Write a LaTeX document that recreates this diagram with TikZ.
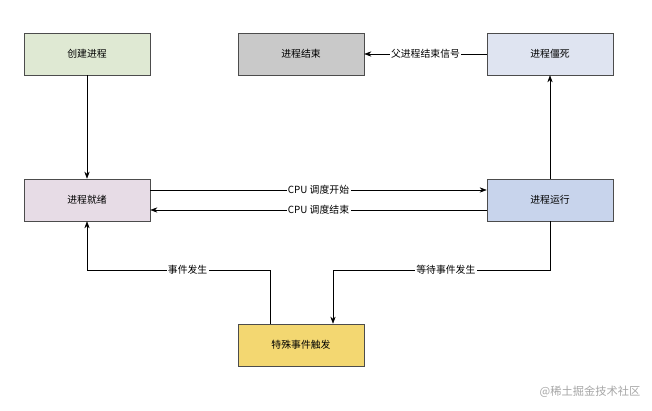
\documentclass[tikz,border=0pt]{standalone}
\usepackage{fontspec}
\setmainfont{Noto Sans CJK SC}
\usetikzlibrary{arrows.meta}
\definecolor{cGreen}{HTML}{DFE9D3}
\definecolor{cGray}{HTML}{C9C9C9}
\definecolor{cZombie}{HTML}{DFE4F1}
\definecolor{cReady}{HTML}{E7DCE6}
\definecolor{cRun}{HTML}{C8D4EC}
\definecolor{cEvent}{HTML}{F3D771}
\tikzset{
  state/.style={draw=black!70,minimum width=3.15cm,minimum height=1.05cm,font=\scriptsize},
  lbl/.style={fill=white,inner sep=1pt,font=\scriptsize},
}
\begin{document}
\begin{tikzpicture}[x=0.025cm,y=-0.025cm,>={Stealth[length=5pt]},font=\scriptsize]
                \useasboundingbox (0,0) rectangle (652,411);
                \node[state,fill=cGreen] (create) at (87,54) {创建进程};
                \node[state,fill=cGray] (finish) at (301,54) {进程结束};
                \node[state,fill=cZombie] (zombie) at (550,54) {进程僵死};
                \node[state,fill=cReady] (ready) at (87,200) {进程就绪};
                \node[state,fill=cRun] (run) at (550,200) {进程运行};
                \node[state,fill=cEvent] (event) at (301,345) {特殊事件触发};
                \coordinate (evL) at (270,270);
                \coordinate (rdL) at (87,270);
                \coordinate (ruL) at (550,270);
                \coordinate (evR) at (333,270);
                \draw[->] (create)--(ready);
                \draw[->] (zombie)--(finish) node[lbl,midway] {父进程结束信号};
                \draw[->] (run)--(zombie);
                \draw[->] ([yshift=0.25cm]ready.east)--([yshift=0.25cm]run.west) node[lbl,midway] {CPU 调度开始};
                \draw[->] ([yshift=-0.25cm]run.west)--([yshift=-0.25cm]ready.east) node[lbl,midway] {CPU 调度结束};
                \draw[->] (event.north -| evL)--(evL)--(rdL) node[lbl,pos=0.45] {事件发生}--(ready);
                \draw[->] (run)--(ruL)--(evR) node[lbl,pos=0.48] {等待事件发生}--(evR |- event.north);
                \node[text=black!35,font=\footnotesize] (mark) at (590,392) {@稀土掘金技术社区};
            \end{tikzpicture}
\end{document}
